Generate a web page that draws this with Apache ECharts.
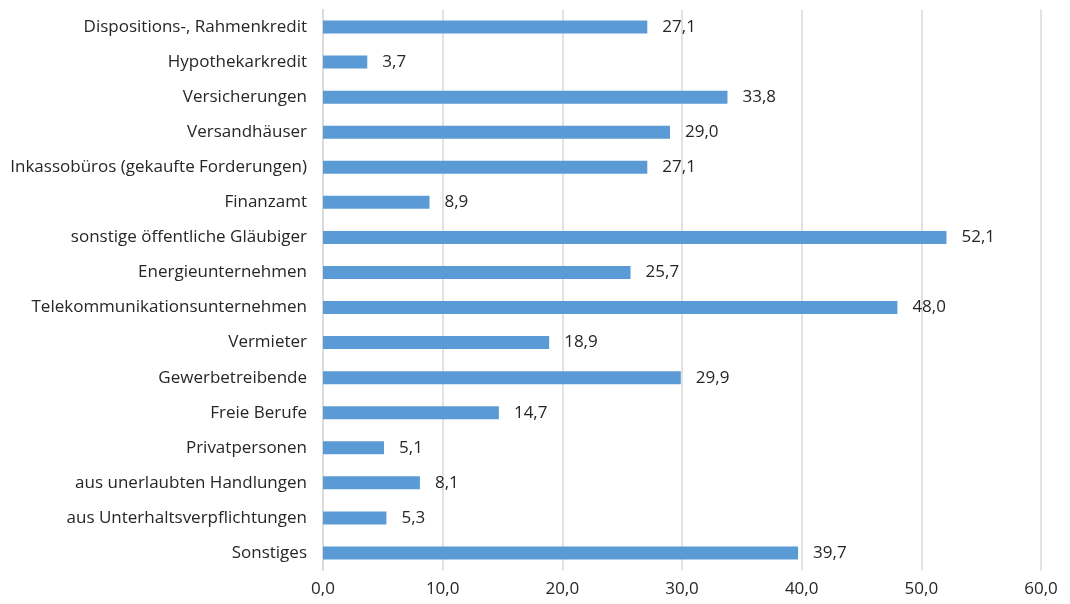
<!DOCTYPE html>
<html><head><meta charset="utf-8">
<script src="https://cdn.jsdelivr.net/npm/echarts@6/dist/echarts.min.js"></script>
<style>html,body{margin:0;padding:0;background:#fff}#c{width:1070px;height:604px}</style>
</head><body><div id="c"></div>
<script>
var categories = ["Dispositions-, Rahmenkredit","Hypothekarkredit","Versicherungen","Versandhäuser","Inkassobüros (gekaufte Forderungen)","Finanzamt","sonstige öffentliche Gläubiger","Energieunternehmen","Telekommunikationsunternehmen","Vermieter","Gewerbetreibende","Freie Berufe","Privatpersonen","aus unerlaubten Handlungen","aus Unterhaltsverpflichtungen","Sonstiges"];
var values = [27.1,3.7,33.8,29.0,27.1,8.9,52.1,25.7,48.0,18.9,29.9,14.7,5.1,8.1,5.3,39.7];
var fmt = function(v){return Number(v).toFixed(1).replace('.', ',');};
var font = '"Open Sans", "Noto Sans", sans-serif';
var chart = echarts.init(document.getElementById('c'));
chart.setOption({
  animation:false,
  grid:{left:323,right:29,top:9.5,bottom:33.5,containLabel:false},
  xAxis:{type:'value',min:0,max:60,interval:10,
    axisLine:{show:false},axisTick:{show:false},
    splitLine:{show:true,lineStyle:{color:'#d9d9d9',width:1.5}},
    axisLabel:{formatter:fmt,color:'#262626',fontSize:17,fontFamily:font,margin:10}},
  yAxis:{type:'category',inverse:true,data:categories,
    axisLine:{show:true,lineStyle:{color:'#d9d9d9',width:1.5}},axisTick:{show:false},
    axisLabel:{color:'#262626',fontSize:17,fontFamily:font,margin:16}},
  series:[{type:'bar',data:values,barWidth:13,itemStyle:{color:'#5b9bd5'},
    label:{show:true,position:'right',distance:15,formatter:function(p){return fmt(p.value);},
      color:'#262626',fontSize:17,fontFamily:font}}]
});
</script></body></html>
